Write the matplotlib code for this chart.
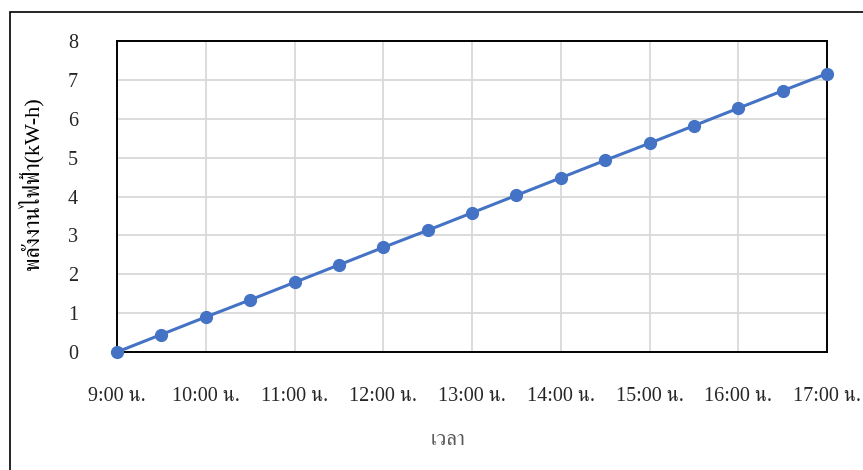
import matplotlib
matplotlib.use("Agg")
import matplotlib.pyplot as plt
from matplotlib.patches import Rectangle

# energy reading every half hour, 9:00 to 17:00
hours = [9 + 0.5 * i for i in range(17)]
energy = [0.0, 0.45, 0.90, 1.34, 1.79, 2.24, 2.69, 3.13, 3.58,
          4.03, 4.48, 4.93, 5.37, 5.82, 6.27, 6.72, 7.16]
hour_ticks = list(range(9, 18))
hour_labels = [f"{h}:00 น." for h in hour_ticks]
y_ticks = list(range(0, 9))

plt.rcParams['font.family'] = ['Liberation Serif', 'FreeSerif', 'DejaVu Sans']

fig = plt.figure(figsize=(8.63, 4.70), dpi=100)
ax = fig.add_axes([117 / 863, 1 - 352 / 470, (827 - 117) / 863, (352 - 41) / 470])

ax.plot(hours, energy, color='#4472c4', linewidth=2.2, marker='o',
        markersize=8.5, zorder=3, clip_on=False)

ax.set_xlim(9, 17)
ax.set_ylim(0, 8)
ax.set_xticks(hour_ticks)
ax.set_xticklabels(hour_labels)
ax.set_yticks(y_ticks)
ax.tick_params(length=0, labelsize=14.5, colors='#262626')
ax.tick_params(axis='x', pad=25)
ax.tick_params(axis='y', pad=28)
ax.grid(True, color='#d9d9d9', linewidth=1.3)
ax.set_axisbelow(True)
for s in ax.spines.values():
    s.set_color('#000000')
    s.set_linewidth(1.4)

ax.set_xlabel('เวลา', fontsize=15, color='#595959', va='center')
ax.xaxis.set_label_coords(0.466, -0.286)
ax.set_ylabel('พลังงานไฟฟ้า(kW-h)', fontsize=16, color='#000000', va='center')
ax.yaxis.set_label_coords(-0.121, 0.543)

# outer frame around the chart
fig.patches.append(Rectangle((10 / 863, -0.1), 1.2, 1 - 12 / 470 + 0.1,
                             transform=fig.transFigure, fill=False,
                             edgecolor='#000000', linewidth=1.2))

fig.savefig('out.png', dpi=100)
